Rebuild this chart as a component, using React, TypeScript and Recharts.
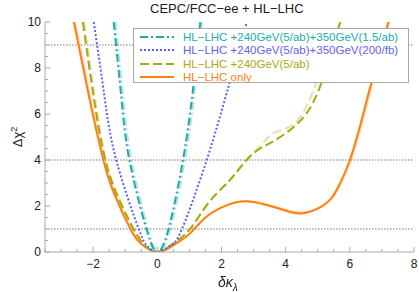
import React from 'react'
import { LineChart, Line, XAxis, YAxis, ReferenceLine } from 'recharts'

// chi^2 curves, [deltaKappa, chi2]
const hlOnly = [
  [-2.6, 10], [-2.15, 6.9], [-1.7, 4.1], [-1.35, 2.55], [-0.84, 1], [-0.5, 0.35], [0, 0],
  [0.51, 0.3], [1.02, 0.81], [1.54, 1.54], [2.2, 2.05], [2.85, 2.2], [3.6, 1.97], [4.2, 1.72],
  [4.55, 1.68], [4.95, 1.85], [5.4, 2.3], [5.7, 3.0], [6.0, 4], [6.36, 5.7], [6.64, 7.2], [6.93, 8.65], [7.2, 10],
]
const hlOnlyAlt = [
  [-2.56, 10], [-2.11, 6.9], [-1.66, 4.1], [-1.31, 2.55], [-0.81, 1], [-0.48, 0.35], [0, 0],
  [0.51, 0.3], [1.02, 0.81], [1.54, 1.54], [2.2, 2.06], [2.85, 2.22], [3.6, 2.0], [4.2, 1.76],
  [4.6, 1.73], [5.0, 1.9], [5.44, 2.34], [5.74, 3.03], [6.04, 4], [6.4, 5.7], [6.68, 7.2], [6.97, 8.65], [7.24, 10],
]
const with240 = [
  [-2.32, 10], [-1.98, 6.7], [-1.62, 4], [-1.2, 2.3], [-0.74, 1], [-0.4, 0.3], [0, 0],
  [0.51, 0.38], [1.02, 1], [1.54, 2.04], [2.06, 2.84], [2.4, 3.35], [2.78, 4], [3.2, 4.5],
  [3.6, 4.8], [4.13, 5.3], [4.65, 6.03], [5.06, 7.15], [5.4, 8.6], [5.7, 10],
]
const with240Alt = [
  [-2.28, 10], [-1.94, 6.7], [-1.6, 4], [-1.18, 2.3], [-0.73, 1], [-0.4, 0.3], [0, 0],
  [0.51, 0.38], [1.02, 1], [1.54, 2.04], [2.06, 2.84], [2.4, 3.35], [2.78, 4], [3.2, 4.6],
  [3.61, 5.16], [4.13, 5.45], [4.6, 6.2], [5.06, 7.7], [5.4, 8.85], [5.7, 10],
]
const with350low = [
  [-1.98, 10], [-1.64, 6.7], [-1.28, 4], [-0.58, 1], [-0.3, 0.25], [0, 0],
  [0.4, 0.27], [0.77, 1], [1.54, 4], [2.16, 6.9], [2.79, 10],
]
const with350 = [
  [-1.36, 10], [-1.12, 6.7], [-0.87, 4], [-0.34, 1], [0, 0],
  [0.35, 1], [0.8, 4], [1.09, 6.8], [1.34, 10],
]
const with350Alt = [
  [-1.3, 10], [-1.06, 6.7], [-0.81, 4], [-0.29, 1], [0.05, 0],
  [0.41, 1], [0.86, 4], [1.15, 6.8], [1.4, 10],
]

const xTicks = [-3.5, -3, -2.5, -2, -1.5, -1, -0.5, 0, 0.5, 1, 1.5, 2, 2.5, 3, 3.5, 4, 4.5, 5, 5.5, 6, 6.5, 7, 7.5, 8]
const xLabels = [-2, 0, 2, 4, 6, 8]
const yTicks = [0, 0.5, 1, 1.5, 2, 2.5, 3, 3.5, 4, 4.5, 5, 5.5, 6, 6.5, 7, 7.5, 8, 8.5, 9, 9.5, 10]
const yLabels = [0, 2, 4, 6, 8, 10]
const refLevels = [1, 4, 9]

const legendItems = [
  { name: 'HL\u2212LHC +240GeV(5/ab)+350GeV(1.5/ab)', color: '#1cabab', dash: '8 3 2 3' },
  { name: 'HL\u2212LHC +240GeV(5/ab)+350GeV(200/fb)', color: '#5f5ff7', dash: '2 2' },
  { name: 'HL\u2212LHC +240GeV(5/ab)', color: '#a8a812', dash: '9 4' },
  { name: 'HL\u2212LHC only', color: '#ff8010', dash: '' },
]

const toPts = (arr: number[][]) => arr.map(([x, y]) => ({ x, y }))

const frame = '#a8a8a8'
const fnt = '"Liberation Sans", Arial, sans-serif'
const fmt = (v: number) => (v < 0 ? '\u2212' + Math.abs(v) : String(v))

const TickB = (props: any) => {
  const { x, y, payload } = props
  const v = payload.value
  const major = xLabels.includes(v)
  return (
    <g>
      <line x1={x} y1={y} x2={x} y2={y - (major ? 5 : 3)} stroke={frame} />
      {major && (
        <text x={x} y={y + 16} textAnchor="middle" fontSize={12} fontFamily={fnt} fill="#222">{fmt(v)}</text>
      )}
    </g>
  )
}
const TickT = (props: any) => {
  const { x, y, payload } = props
  const major = xLabels.includes(payload.value)
  return <line x1={x} y1={y} x2={x} y2={y + (major ? 5 : 3)} stroke={frame} />
}
const TickL = (props: any) => {
  const { x, y, payload } = props
  const v = payload.value
  const major = yLabels.includes(v)
  return (
    <g>
      <line x1={x} y1={y} x2={x + (major ? 5 : 3)} y2={y} stroke={frame} />
      {major && (
        <text x={x - 4} y={y + 4} textAnchor="end" fontSize={12} fontFamily={fnt} fill="#222">{v}</text>
      )}
    </g>
  )
}
const TickR = (props: any) => {
  const { x, y, payload } = props
  const major = yLabels.includes(payload.value)
  return <line x1={x} y1={y} x2={x - (major ? 5 : 3)} y2={y} stroke={frame} />
}

export default function App() {
  return (
    <div style={{ position: 'fixed', left: 0, top: 0, width: 419, height: 292, background: '#fff', fontFamily: fnt }}>
      <LineChart width={419} height={292} margin={{ top: 22, right: 5, bottom: 0, left: 5 }}>
        <XAxis xAxisId="b" type="number" dataKey="x" domain={[-3.5, 8]} ticks={xTicks} interval={0}
          allowDataOverflow tick={<TickB />} tickLine={false} tickSize={0} tickMargin={0} height={40} stroke={frame} />
        <XAxis xAxisId="t" orientation="top" type="number" dataKey="x" domain={[-3.5, 8]} ticks={xTicks} interval={0}
          allowDataOverflow tick={<TickT />} tickLine={false} tickSize={0} tickMargin={0} height={0} stroke={frame} />
        <YAxis yAxisId="l" type="number" domain={[0, 10]} ticks={yTicks} interval={0} allowDataOverflow
          tick={<TickL />} tickLine={false} tickSize={0} tickMargin={0} width={40} stroke={frame} />
        <YAxis yAxisId="r" orientation="right" type="number" domain={[0, 10]} ticks={yTicks} interval={0} allowDataOverflow
          tick={<TickR />} tickLine={false} tickSize={0} tickMargin={0} width={0} stroke={frame} />
        {refLevels.map((v) => (
          <ReferenceLine key={v} xAxisId="b" yAxisId="l" y={v} stroke="#777" strokeDasharray="1.5 1.5" />
        ))}
        <Line xAxisId="b" yAxisId="l" data={toPts(hlOnlyAlt)} dataKey="y" type="natural" stroke="#ff8010" strokeOpacity={0.35}
          strokeWidth={2} dot={false} isAnimationActive={false} />
        <Line xAxisId="b" yAxisId="l" data={toPts(hlOnly)} dataKey="y" type="natural" stroke="#ff8010"
          strokeWidth={2} dot={false} isAnimationActive={false} />
        <Line xAxisId="b" yAxisId="l" data={toPts(with240Alt)} dataKey="y" type="natural" stroke="#a8a812" strokeOpacity={0.35}
          strokeWidth={2} strokeDasharray="9 4" dot={false} isAnimationActive={false} />
        <Line xAxisId="b" yAxisId="l" data={toPts(with240)} dataKey="y" type="natural" stroke="#a8a812"
          strokeWidth={2} strokeDasharray="9 4" dot={false} isAnimationActive={false} />
        <Line xAxisId="b" yAxisId="l" data={toPts(with350low)} dataKey="y" type="natural" stroke="#5f5ff7"
          strokeWidth={2} strokeDasharray="2 2" dot={false} isAnimationActive={false} />
        <Line xAxisId="b" yAxisId="l" data={toPts(with350Alt)} dataKey="y" type="natural" stroke="#1cabab" strokeOpacity={0.35}
          strokeWidth={2} strokeDasharray="8 3 2 3" dot={false} isAnimationActive={false} />
        <Line xAxisId="b" yAxisId="l" data={toPts(with350)} dataKey="y" type="natural" stroke="#1cabab"
          strokeWidth={2} strokeDasharray="8 3 2 3" dot={false} isAnimationActive={false} />
      </LineChart>

      <div style={{ position: 'absolute', left: 150, top: 1, fontSize: 13, color: '#222', whiteSpace: 'nowrap' }}>
        CEPC/FCC{'\u2212'}ee + HL{'\u2212'}LHC
      </div>
      <div style={{ position: 'absolute', left: 4, top: 127, width: 30, height: 20, transform: 'rotate(-90deg)', transformOrigin: 'center',
        fontSize: 13, color: '#222', textAlign: 'center', whiteSpace: 'nowrap' }}>
        {'\u0394\u03c7'}<sup style={{ fontSize: 9 }}>2</sup>
      </div>
      <div style={{ position: 'absolute', left: 218, top: 274, fontSize: 14, color: '#222', fontStyle: 'italic', whiteSpace: 'nowrap' }}>
        {'\u03b4\u03ba'}<sub style={{ fontSize: 10 }}>{'\u03bb'}</sub>
      </div>

      <div style={{ position: 'absolute', left: 133, top: 28, width: 276, height: 55, background: '#fff', border: '1px solid #aaa', boxSizing: 'border-box', padding: '1px 0 0 6px' }}>
        {legendItems.map((it) => (
          <div key={it.name} style={{ display: 'flex', alignItems: 'center', height: 13.5 }}>
            <svg width={34} height={6} style={{ flex: 'none' }}>
              <line x1={0} y1={3} x2={34} y2={3} stroke={it.color} strokeWidth={2} strokeDasharray={it.dash || undefined} />
            </svg>
            <span style={{ marginLeft: 9, fontSize: 11.5, color: it.color, whiteSpace: 'nowrap' }}>{it.name}</span>
          </div>
        ))}
      </div>
    </div>
  )
}
